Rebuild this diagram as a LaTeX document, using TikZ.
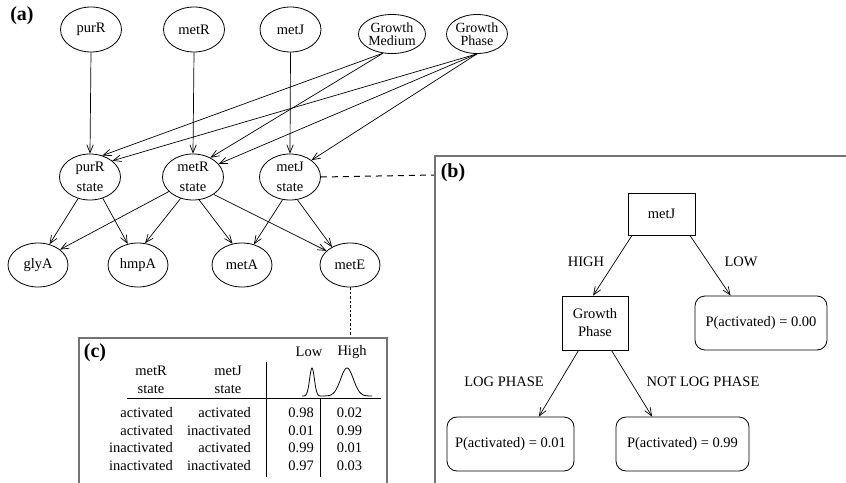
\documentclass[tikz,border=0pt]{standalone}
\usepackage{fontspec}
\setmainfont{Liberation Serif}
\usetikzlibrary{arrows.meta,shapes.geometric}
\begin{document}
\begin{tikzpicture}[x=1pt,y=-1pt,
  every node/.style={font=\fontsize{14.5}{19}\selectfont, inner sep=0pt},
  ell/.style={draw, ellipse, line width=0.8pt, minimum width=61pt, minimum height=45pt, align=center},
  ellsm/.style={ell, minimum height=39pt, font=\fontsize{14}{13.5}\selectfont},
  ellst/.style={ell, minimum height=46pt, font=\fontsize{14.5}{20}\selectfont},
  ellbt/.style={ell, minimum width=60pt, minimum height=44pt},
  arr/.style={draw, line width=0.7pt, -{Straight Barb[length=8pt,width=6.5pt]}},
  panel/.style={draw=black!55, line width=1.6pt},
  lab/.style={font=\bfseries\fontsize{20}{24}\selectfont},
  sq/.style={draw, rectangle, line width=0.8pt, align=center, font=\fontsize{14.5}{18}\selectfont},
  leaf/.style={draw, rectangle, rounded corners=10pt, line width=0.8pt, minimum height=54pt},
  tline/.style={line width=0.9pt}
]
\useasboundingbox (0,0) rectangle (846,482);

% panel (a)
\node[lab] (la) at (22,16) {(a)};
\node[ell] (purR) at (91,29.5) {purR};
\node[ell] (metR) at (194,29.5) {metR};
\node[ell] (metJ) at (290.5,29.5) {metJ};
\node[ellsm] (gm) at (392,34) {Growth\\Medium};
\node[ellsm] (gp) at (477,34) {Growth\\Phase};
\node[ellst] (purRs) at (90,177) {purR\\state};
\node[ellst] (metRs) at (193,177) {metR\\state};
\node[ellst] (metJs) at (290,177) {metJ\\state};
\node[ellbt] (glyA) at (38,265) {glyA};
\node[ellbt] (hmpA) at (138,265) {hmpA};
\node[ellbt] (metA) at (242,265) {metA};
\node[ellbt] (metE) at (350,265) {metE};

\draw[arr] (purR.south) -- (purRs.north);
\draw[arr] (metR.south) -- (metRs.north);
\draw[arr] (metJ.south) -- (metJs.north);
\draw[arr] (gm.-115) -- (purRs.60);
\draw[arr] (gm.-115) -- (metRs.48);
\draw[arr] (gp.south) -- (purRs.36);
\draw[arr] (gp.south) -- (metRs.27);
\draw[arr] (gp.south) -- (metJs.38);

\draw[arr] (purRs.-119) -- (glyA.61);
\draw[arr] (purRs.-59) -- (hmpA.116);
\draw[arr] (metRs.-149) -- (glyA.35);
\draw[arr] (metRs.-120) -- (hmpA.72);
\draw[arr] (metRs.-75) -- (metA.114);
\draw[arr] (metRs.-40) -- (metE.149);
\draw[arr] (metJs.-108) -- (metA.60);
\draw[arr] (metJs.-72) -- (metE.135);

% links to panels
\coordinate (bl) at (435,175);
\coordinate (ctop) at (350,338);
\draw[line width=1pt, dash pattern=on 6pt off 5pt] (metJs.east) -- (bl);
\draw[line width=1pt, dash pattern=on 2.5pt off 2pt] (metE.south) -- (ctop);

% panel (b)
\draw[panel] (435,483) -- (435,156) -- (847,156);
\node[lab] (lb) at (453,173) {(b)};
\node[sq, minimum width=67pt, minimum height=42pt] (tmetJ) at (661.5,214) {metJ};
\node[sq, minimum width=66pt, minimum height=54pt] (tgp) at (595,323) {Growth\\Phase};
\node[leaf, minimum width=132pt] (l0) at (761,323) {P(activated) = 0.00};
\node[leaf, minimum width=127pt] (l1) at (510.5,444) {P(activated) = 0.01};
\node[leaf, minimum width=133pt] (l2) at (682.5,444) {P(activated) = 0.99};
\draw[arr] (tmetJ.216) -- (tgp.94);
\draw[arr] (tmetJ.-37) -- (l0.138);
\draw[arr] (tgp.239) -- (l1.44.5);
\draw[arr] (tgp.-59) -- (l2.138.5);
\node (hi) at (586,262) {HIGH};
\node (lo) at (741,262) {LOW};
\node (lp) at (504,382) {LOG PHASE};
\node (nlp) at (703,382) {NOT LOG PHASE};

% panel (c)
\draw[panel] (79,483) -- (79,338) -- (387,338) -- (387,483);
\node[lab] (lc) at (95,353) {(c)};
\node (low) at (309,352) {Low};
\node (high) at (352,352) {High};
\node[align=center, font=\fontsize{14.5}{18}\selectfont] (hR) at (151,380) {metR\\state};
\node[align=center, font=\fontsize{14.5}{18}\selectfont] (hJ) at (228,380) {metJ\\state};
\draw[tline] (266,362) -- (266,477);
\draw[tline] (127,398) -- (381,398);
\draw[tline] (320,398) -- (320,477);
\draw[line width=0.8pt] plot[domain=302:372, samples=120, smooth]
  (\x, {396 - 28*exp(-((\x-312)/3.4)^2) - 28*exp(-((\x-347)/9)^2)});

\foreach \y/\a/\b/\c/\d in {413/activated/activated/0.98/0.02,
  430.5/activated/inactivated/0.01/0.99,
  448/inactivated/activated/0.99/0.01,
  466/inactivated/inactivated/0.97/0.03}{
  \node[anchor=east] at (173,\y) {\a};
  \node[anchor=east] at (251,\y) {\b};
  \node[anchor=east] at (314,\y) {\c};
  \node at (349.5,\y) {\d};
}
\end{tikzpicture}
\end{document}
